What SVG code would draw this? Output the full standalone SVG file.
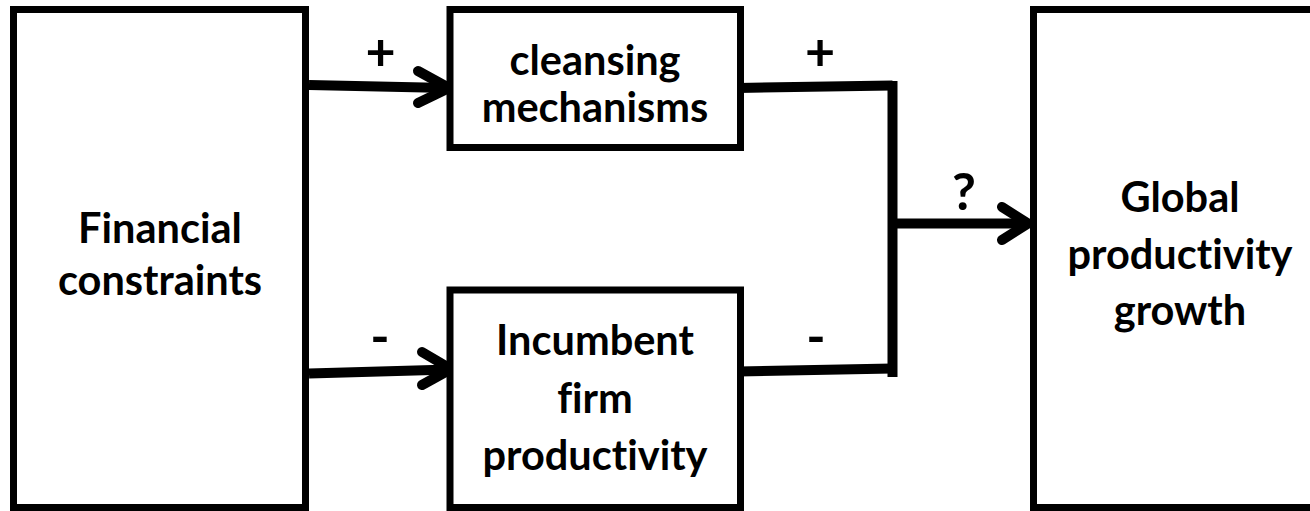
<svg xmlns="http://www.w3.org/2000/svg" width="1310" height="511" viewBox="0 0 1310 511">
<style>
.box{fill:#fff;stroke:#000;stroke-width:7}
.t{font-family:Lato,"Open Sans","Liberation Sans",sans-serif;font-weight:bold;font-size:41.5px;fill:#000;text-anchor:middle;font-variant-ligatures:none;font-feature-settings:"liga" 0}
.s{font-size:52px}
.c{fill:none;stroke:#000;stroke-width:10}
.h{fill:none;stroke:#000;stroke-width:10;stroke-linecap:round;stroke-linejoin:round}
</style>
<rect width="1310" height="511" fill="#fff"/>
<g id="connectors">
<line class="c" x1="309" y1="85" x2="448" y2="88"/>
<polyline class="h" points="418,71 449,88 418,103"/>
<line class="c" x1="309" y1="373.5" x2="450" y2="369.5"/>
<polyline class="h" points="422,352 451,369 422,385"/>
<polyline class="c" points="738,88 892.5,85.5"/>
<polyline class="c" points="738,371.5 892.5,368.5"/>
<line class="c" x1="892.5" y1="81" x2="892.5" y2="377"/>
<line class="c" x1="892" y1="223.5" x2="1026" y2="223.5"/>
<polyline class="h" points="1002,207 1028,223.5 1002,240"/>
<text class="t s" x="380.5" y="70">+</text>
<text class="t s" x="820" y="70">+</text>
<text class="t s" x="380" y="355">-</text>
<text class="t s" x="816" y="355">-</text>
<text class="t s" x="964" y="210">?</text>
</g>
<g id="financial">
<rect class="box" x="13.5" y="9.5" width="292" height="498"/>
<text class="t" x="160" y="243">Financial</text>
<text class="t" x="160" y="295">constraints</text>
</g>
<g id="cleansing">
<rect class="box" x="450" y="9.5" width="290.5" height="138"/>
<text class="t" x="595" y="75">cleansing</text>
<text class="t" x="595" y="122">mechanisms</text>
</g>
<g id="incumbent">
<rect class="box" x="450" y="290" width="290.5" height="217.5"/>
<text class="t" x="595" y="355">Incumbent</text>
<text class="t" x="595" y="413">firm</text>
<text class="t" x="595" y="470">productivity</text>
</g>
<g id="global">
<rect class="box" x="1033.5" y="9.5" width="290" height="498"/>
<text class="t" x="1180" y="212">Global</text>
<text class="t" x="1180" y="269">productivity</text>
<text class="t" x="1180" y="325">growth</text>
</g>
</svg>
